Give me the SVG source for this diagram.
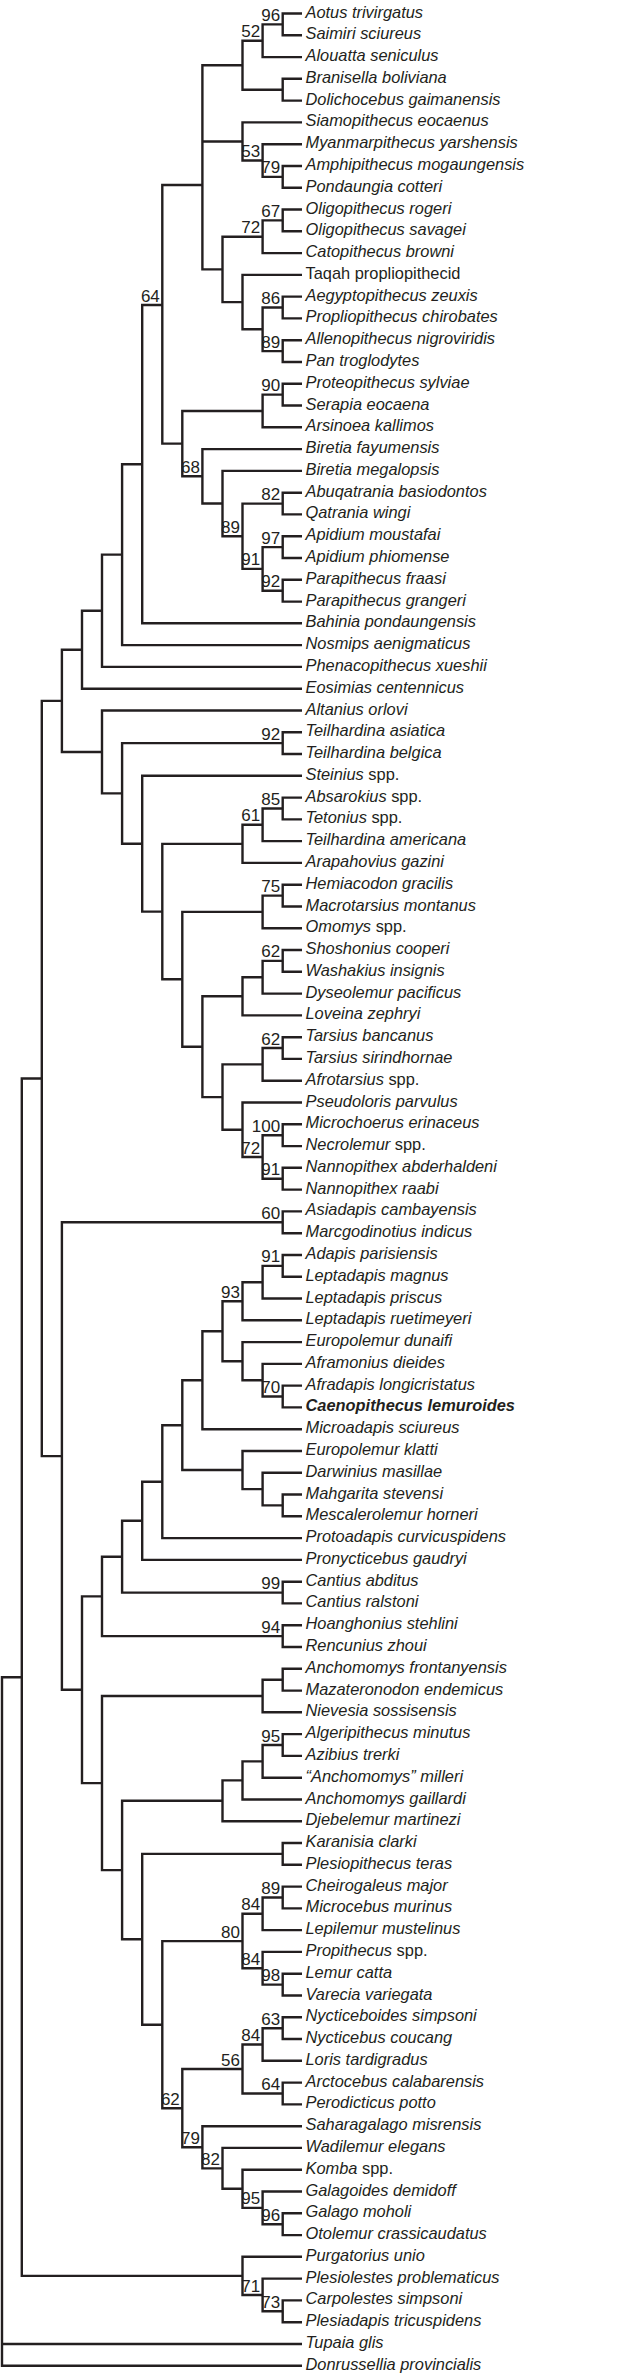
<svg xmlns="http://www.w3.org/2000/svg" width="630" height="2377" viewBox="0 0 630 2377">
<style>
.e{fill:none;stroke:#231f20;stroke-width:2.4;stroke-linecap:butt;stroke-linejoin:miter}
.t{font-family:"Liberation Sans",Arial,sans-serif;font-size:16.4px;fill:#231f20;font-style:italic}
.r{font-style:normal}
.b{font-weight:bold}
.s{font-family:"Liberation Sans",Arial,sans-serif;font-size:17px;fill:#231f20;text-anchor:end}
</style>
<rect width="630" height="2377" fill="#fff"/>
<g id="connectors" class="e">
<path d="M302 13.5H282.7V35.3H302"/>
<path d="M282.7 24.4H262.6V57.1H302"/>
<path d="M302 78.8H282.7V100.6H302"/>
<path d="M262.6 40.7H242.5V89.7H282.7"/>
<path d="M302 166H282.7V187.7H302"/>
<path d="M302 144.2H262.6V176.9H282.7"/>
<path d="M302 122.4H242.5V160.5H262.6"/>
<path d="M302 209.5H282.7V231.3H302"/>
<path d="M282.7 220.4H262.6V253.1H302"/>
<path d="M302 296.6H282.7V318.4H302"/>
<path d="M302 340.2H282.7V362H302"/>
<path d="M282.7 307.5H262.6V351.1H282.7"/>
<path d="M302 274.9H242.5V329.3H262.6"/>
<path d="M262.6 236.7H222.5V302.1H242.5"/>
<path d="M242.5 65.2H202.4V269.4H222.5M202.4 141.5H242.5"/>
<path d="M302 383.8H282.7V405.5H302"/>
<path d="M282.7 394.6H262.6V427.3H302"/>
<path d="M302 492.7H282.7V514.4H302"/>
<path d="M302 536.2H282.7V558H302"/>
<path d="M302 579.8H282.7V601.6H302"/>
<path d="M282.7 547.1H262.6V590.7H282.7"/>
<path d="M282.7 503.6H242.5V568.9H262.6"/>
<path d="M302 470.9H222.5V536.2H242.5"/>
<path d="M302 449.1H202.4V503.5H222.5"/>
<path d="M262.6 411H182.3V476.3H202.4"/>
<path d="M202.4 185H162.3V443.6H182.3"/>
<path d="M162.3 305H142.2V623.3H302"/>
<path d="M142.2 464.2H122.1V645.1H302"/>
<path d="M122.1 554.6H102V666.9H302"/>
<path d="M102 610.8H82V688.7H302"/>
<path d="M302 732.2H282.7V754H302"/>
<path d="M302 797.6H282.7V819.4H302"/>
<path d="M282.7 808.5H262.6V841.1H302"/>
<path d="M262.6 824.8H242.5V862.9H302"/>
<path d="M302 884.7H282.7V906.5H302"/>
<path d="M282.7 895.6H262.6V928.3H302"/>
<path d="M302 950H282.7V971.8H302"/>
<path d="M282.7 960.9H262.6V993.6H302"/>
<path d="M262.6 977.3H242.5V1015.4H302"/>
<path d="M302 1037.2H282.7V1058.9H302"/>
<path d="M282.7 1048H262.6V1080.7H302"/>
<path d="M302 1124.3H282.7V1146.1H302"/>
<path d="M302 1167.8H282.7V1189.6H302"/>
<path d="M282.7 1135.2H262.6V1178.7H282.7"/>
<path d="M302 1102.5H242.5V1157H262.6"/>
<path d="M262.6 1064.4H222.5V1129.8H242.5"/>
<path d="M242.5 996.3H202.4V1097.1H222.5"/>
<path d="M262.6 911.9H182.3V1046.7H202.4"/>
<path d="M242.5 843.9H162.3V979.3H182.3"/>
<path d="M302 775.8H142.2V911.6H162.3"/>
<path d="M282.7 743.1H122.1V843.7H142.2"/>
<path d="M302 710.5H102V793.4H122.1"/>
<path d="M82 649.7H61.9V752H102"/>
<path d="M302 1211.4H282.7V1233.2H302"/>
<path d="M302 1255H282.7V1276.7H302"/>
<path d="M282.7 1265.9H262.6V1298.5H302"/>
<path d="M262.6 1282.2H242.5V1320.3H302"/>
<path d="M302 1385.6H282.7V1407.4H302"/>
<path d="M302 1363.9H262.6V1396.5H282.7"/>
<path d="M302 1342.1H242.5V1380.2H262.6"/>
<path d="M242.5 1301.3H222.5V1361.2H242.5"/>
<path d="M222.5 1331.3H202.4V1429.2H302"/>
<path d="M302 1494.5H282.7V1516.3H302"/>
<path d="M302 1472.8H262.6V1505.4H282.7"/>
<path d="M302 1451H242.5V1489.1H262.6"/>
<path d="M202.4 1380.3H182.3V1470H242.5"/>
<path d="M182.3 1425.2H162.3V1538.1H302"/>
<path d="M162.3 1481.7H142.2V1559.9H302"/>
<path d="M302 1581.7H282.7V1603.4H302"/>
<path d="M142.2 1520.8H122.1V1592.6H282.7"/>
<path d="M302 1625.2H282.7V1647H302"/>
<path d="M122.1 1556.7H102V1636.1H282.7"/>
<path d="M302 1668.8H282.7V1690.6H302"/>
<path d="M282.7 1679.7H262.6V1712.3H302"/>
<path d="M302 1734.1H282.7V1755.9H302"/>
<path d="M282.7 1745H262.6V1777.7H302"/>
<path d="M262.6 1761.4H242.5V1799.5H302"/>
<path d="M242.5 1780.4H222.5V1821.2H302"/>
<path d="M302 1843H282.7V1864.8H302"/>
<path d="M302 1886.6H282.7V1908.4H302"/>
<path d="M282.7 1897.5H262.6V1930.1H302"/>
<path d="M302 1973.7H282.7V1995.5H302"/>
<path d="M302 1951.9H262.6V1984.6H282.7"/>
<path d="M262.6 1913.8H242.5V1968.3H262.6"/>
<path d="M302 2017.3H282.7V2039H302"/>
<path d="M282.7 2028.2H262.6V2060.8H302"/>
<path d="M302 2082.6H282.7V2104.4H302"/>
<path d="M262.6 2044.5H242.5V2093.5H282.7"/>
<path d="M302 2213.3H282.7V2235.1H302"/>
<path d="M302 2191.5H262.6V2224.2H282.7"/>
<path d="M302 2169.7H242.5V2207.9H262.6"/>
<path d="M302 2147.9H222.5V2188.8H242.5"/>
<path d="M302 2126.2H202.4V2168.4H222.5"/>
<path d="M242.5 2069H182.3V2147.3H202.4"/>
<path d="M242.5 1941.1H162.3V2108.2H182.3"/>
<path d="M282.7 1853.9H142.2V2024.7H162.3"/>
<path d="M222.5 1800.8H122.1V1939.3H142.2"/>
<path d="M262.6 1696H102V1870.1H122.1"/>
<path d="M102 1596.4H82V1783.1H102"/>
<path d="M282.7 1222.3H61.9V1689.8H82"/>
<path d="M61.9 700.9H41.8V1456.1H61.9"/>
<path d="M302 2300.4H282.7V2322.2H302"/>
<path d="M302 2278.6H262.6V2311.3H282.7"/>
<path d="M302 2256.8H242.5V2295H262.6"/>
<path d="M41.8 1078.5H21.8V2275.9H242.5"/>
<path d="M21.8 1677.2H2V2365.7H302M2 2344H302"/>
</g>
<g id="support">
<text class="s" x="280.2" y="20.9">96</text>
<text class="s" x="260.1" y="37.2">52</text>
<text class="s" x="260.1" y="157">53</text>
<text class="s" x="280.2" y="173.4">79</text>
<text class="s" x="280.2" y="216.9">67</text>
<text class="s" x="260.1" y="233.2">72</text>
<text class="s" x="280.2" y="304">86</text>
<text class="s" x="280.2" y="347.6">89</text>
<text class="s" x="159.8" y="301.5">64</text>
<text class="s" x="280.2" y="391.1">90</text>
<text class="s" x="199.9" y="472.8">68</text>
<text class="s" x="280.2" y="500.1">82</text>
<text class="s" x="240" y="532.7">89</text>
<text class="s" x="280.2" y="543.6">97</text>
<text class="s" x="260.1" y="565.4">91</text>
<text class="s" x="280.2" y="587.2">92</text>
<text class="s" x="280.2" y="739.6">92</text>
<text class="s" x="280.2" y="805">85</text>
<text class="s" x="260.1" y="821.3">61</text>
<text class="s" x="280.2" y="892.1">75</text>
<text class="s" x="280.2" y="957.4">62</text>
<text class="s" x="280.2" y="1044.5">62</text>
<text class="s" x="280.2" y="1131.7">100</text>
<text class="s" x="280.2" y="1175.2">91</text>
<text class="s" x="260.1" y="1153.5">72</text>
<text class="s" x="280.2" y="1218.8">60</text>
<text class="s" x="280.2" y="1262.4">91</text>
<text class="s" x="240" y="1297.8">93</text>
<text class="s" x="280.2" y="1393">70</text>
<text class="s" x="280.2" y="1589.1">99</text>
<text class="s" x="280.2" y="1632.6">94</text>
<text class="s" x="280.2" y="1741.5">95</text>
<text class="s" x="280.2" y="1894">89</text>
<text class="s" x="260.1" y="1910.3">84</text>
<text class="s" x="240" y="1937.6">80</text>
<text class="s" x="260.1" y="1964.8">84</text>
<text class="s" x="280.2" y="1981.1">98</text>
<text class="s" x="280.2" y="2024.7">63</text>
<text class="s" x="260.1" y="2041">84</text>
<text class="s" x="280.2" y="2090">64</text>
<text class="s" x="240" y="2065.5">56</text>
<text class="s" x="179.8" y="2104.7">62</text>
<text class="s" x="199.9" y="2143.8">79</text>
<text class="s" x="220" y="2164.9">82</text>
<text class="s" x="260.1" y="2204.4">95</text>
<text class="s" x="280.2" y="2220.7">96</text>
<text class="s" x="260.1" y="2291.5">71</text>
<text class="s" x="280.2" y="2307.8">73</text>
</g>
<g id="taxa">
<g id="t001"><text class="t" x="305.5" y="17.5">Aotus trivirgatus</text></g>
<g id="t002"><text class="t" x="305.5" y="39.3">Saimiri sciureus</text></g>
<g id="t003"><text class="t" x="305.5" y="61.1">Alouatta seniculus</text></g>
<g id="t004"><text class="t" x="305.5" y="82.8">Branisella boliviana</text></g>
<g id="t005"><text class="t" x="305.5" y="104.6">Dolichocebus gaimanensis</text></g>
<g id="t006"><text class="t" x="305.5" y="126.4">Siamopithecus eocaenus</text></g>
<g id="t007"><text class="t" x="305.5" y="148.2">Myanmarpithecus yarshensis</text></g>
<g id="t008"><text class="t" x="305.5" y="170">Amphipithecus mogaungensis</text></g>
<g id="t009"><text class="t" x="305.5" y="191.7">Pondaungia cotteri</text></g>
<g id="t010"><text class="t" x="305.5" y="213.5">Oligopithecus rogeri</text></g>
<g id="t011"><text class="t" x="305.5" y="235.3">Oligopithecus savagei</text></g>
<g id="t012"><text class="t" x="305.5" y="257.1">Catopithecus browni</text></g>
<g id="t013"><text class="t r" x="305.5" y="278.9">Taqah propliopithecid</text></g>
<g id="t014"><text class="t" x="305.5" y="300.6">Aegyptopithecus zeuxis</text></g>
<g id="t015"><text class="t" x="305.5" y="322.4">Propliopithecus chirobates</text></g>
<g id="t016"><text class="t" x="305.5" y="344.2">Allenopithecus nigroviridis</text></g>
<g id="t017"><text class="t" x="305.5" y="366">Pan troglodytes</text></g>
<g id="t018"><text class="t" x="305.5" y="387.8">Proteopithecus sylviae</text></g>
<g id="t019"><text class="t" x="305.5" y="409.5">Serapia eocaena</text></g>
<g id="t020"><text class="t" x="305.5" y="431.3">Arsinoea kallimos</text></g>
<g id="t021"><text class="t" x="305.5" y="453.1">Biretia fayumensis</text></g>
<g id="t022"><text class="t" x="305.5" y="474.9">Biretia megalopsis</text></g>
<g id="t023"><text class="t" x="305.5" y="496.7">Abuqatrania basiodontos</text></g>
<g id="t024"><text class="t" x="305.5" y="518.4">Qatrania wingi</text></g>
<g id="t025"><text class="t" x="305.5" y="540.2">Apidium moustafai</text></g>
<g id="t026"><text class="t" x="305.5" y="562">Apidium phiomense</text></g>
<g id="t027"><text class="t" x="305.5" y="583.8">Parapithecus fraasi</text></g>
<g id="t028"><text class="t" x="305.5" y="605.6">Parapithecus grangeri</text></g>
<g id="t029"><text class="t" x="305.5" y="627.3">Bahinia pondaungensis</text></g>
<g id="t030"><text class="t" x="305.5" y="649.1">Nosmips aenigmaticus</text></g>
<g id="t031"><text class="t" x="305.5" y="670.9">Phenacopithecus xueshii</text></g>
<g id="t032"><text class="t" x="305.5" y="692.7">Eosimias centennicus</text></g>
<g id="t033"><text class="t" x="305.5" y="714.5">Altanius orlovi</text></g>
<g id="t034"><text class="t" x="305.5" y="736.2">Teilhardina asiatica</text></g>
<g id="t035"><text class="t" x="305.5" y="758">Teilhardina belgica</text></g>
<g id="t036"><text class="t" x="305.5" y="779.8">Steinius<tspan class="r"> spp.</tspan></text></g>
<g id="t037"><text class="t" x="305.5" y="801.6">Absarokius<tspan class="r"> spp.</tspan></text></g>
<g id="t038"><text class="t" x="305.5" y="823.4">Tetonius<tspan class="r"> spp.</tspan></text></g>
<g id="t039"><text class="t" x="305.5" y="845.1">Teilhardina americana</text></g>
<g id="t040"><text class="t" x="305.5" y="866.9">Arapahovius gazini</text></g>
<g id="t041"><text class="t" x="305.5" y="888.7">Hemiacodon gracilis</text></g>
<g id="t042"><text class="t" x="305.5" y="910.5">Macrotarsius montanus</text></g>
<g id="t043"><text class="t" x="305.5" y="932.3">Omomys<tspan class="r"> spp.</tspan></text></g>
<g id="t044"><text class="t" x="305.5" y="954">Shoshonius cooperi</text></g>
<g id="t045"><text class="t" x="305.5" y="975.8">Washakius insignis</text></g>
<g id="t046"><text class="t" x="305.5" y="997.6">Dyseolemur pacificus</text></g>
<g id="t047"><text class="t" x="305.5" y="1019.4">Loveina zephryi</text></g>
<g id="t048"><text class="t" x="305.5" y="1041.2">Tarsius bancanus</text></g>
<g id="t049"><text class="t" x="305.5" y="1062.9">Tarsius sirindhornae</text></g>
<g id="t050"><text class="t" x="305.5" y="1084.7">Afrotarsius<tspan class="r"> spp.</tspan></text></g>
<g id="t051"><text class="t" x="305.5" y="1106.5">Pseudoloris parvulus</text></g>
<g id="t052"><text class="t" x="305.5" y="1128.3">Microchoerus erinaceus</text></g>
<g id="t053"><text class="t" x="305.5" y="1150.1">Necrolemur<tspan class="r"> spp.</tspan></text></g>
<g id="t054"><text class="t" x="305.5" y="1171.8">Nannopithex abderhaldeni</text></g>
<g id="t055"><text class="t" x="305.5" y="1193.6">Nannopithex raabi</text></g>
<g id="t056"><text class="t" x="305.5" y="1215.4">Asiadapis cambayensis</text></g>
<g id="t057"><text class="t" x="305.5" y="1237.2">Marcgodinotius indicus</text></g>
<g id="t058"><text class="t" x="305.5" y="1259">Adapis parisiensis</text></g>
<g id="t059"><text class="t" x="305.5" y="1280.7">Leptadapis magnus</text></g>
<g id="t060"><text class="t" x="305.5" y="1302.5">Leptadapis priscus</text></g>
<g id="t061"><text class="t" x="305.5" y="1324.3">Leptadapis ruetimeyeri</text></g>
<g id="t062"><text class="t" x="305.5" y="1346.1">Europolemur dunaifi</text></g>
<g id="t063"><text class="t" x="305.5" y="1367.9">Aframonius dieides</text></g>
<g id="t064"><text class="t" x="305.5" y="1389.6">Afradapis longicristatus</text></g>
<g id="t065"><text class="t b" x="305.5" y="1411.4">Caenopithecus lemuroides</text></g>
<g id="t066"><text class="t" x="305.5" y="1433.2">Microadapis sciureus</text></g>
<g id="t067"><text class="t" x="305.5" y="1455">Europolemur klatti</text></g>
<g id="t068"><text class="t" x="305.5" y="1476.8">Darwinius masillae</text></g>
<g id="t069"><text class="t" x="305.5" y="1498.5">Mahgarita stevensi</text></g>
<g id="t070"><text class="t" x="305.5" y="1520.3">Mescalerolemur horneri</text></g>
<g id="t071"><text class="t" x="305.5" y="1542.1">Protoadapis curvicuspidens</text></g>
<g id="t072"><text class="t" x="305.5" y="1563.9">Pronycticebus gaudryi</text></g>
<g id="t073"><text class="t" x="305.5" y="1585.7">Cantius abditus</text></g>
<g id="t074"><text class="t" x="305.5" y="1607.4">Cantius ralstoni</text></g>
<g id="t075"><text class="t" x="305.5" y="1629.2">Hoanghonius stehlini</text></g>
<g id="t076"><text class="t" x="305.5" y="1651">Rencunius zhoui</text></g>
<g id="t077"><text class="t" x="305.5" y="1672.8">Anchomomys frontanyensis</text></g>
<g id="t078"><text class="t" x="305.5" y="1694.6">Mazateronodon endemicus</text></g>
<g id="t079"><text class="t" x="305.5" y="1716.3">Nievesia sossisensis</text></g>
<g id="t080"><text class="t" x="305.5" y="1738.1">Algeripithecus minutus</text></g>
<g id="t081"><text class="t" x="305.5" y="1759.9">Azibius trerki</text></g>
<g id="t082"><text class="t" x="305.5" y="1781.7">“Anchomomys” milleri</text></g>
<g id="t083"><text class="t" x="305.5" y="1803.5">Anchomomys gaillardi</text></g>
<g id="t084"><text class="t" x="305.5" y="1825.2">Djebelemur martinezi</text></g>
<g id="t085"><text class="t" x="305.5" y="1847">Karanisia clarki</text></g>
<g id="t086"><text class="t" x="305.5" y="1868.8">Plesiopithecus teras</text></g>
<g id="t087"><text class="t" x="305.5" y="1890.6">Cheirogaleus major</text></g>
<g id="t088"><text class="t" x="305.5" y="1912.4">Microcebus murinus</text></g>
<g id="t089"><text class="t" x="305.5" y="1934.1">Lepilemur mustelinus</text></g>
<g id="t090"><text class="t" x="305.5" y="1955.9">Propithecus<tspan class="r"> spp.</tspan></text></g>
<g id="t091"><text class="t" x="305.5" y="1977.7">Lemur catta</text></g>
<g id="t092"><text class="t" x="305.5" y="1999.5">Varecia variegata</text></g>
<g id="t093"><text class="t" x="305.5" y="2021.3">Nycticeboides simpsoni</text></g>
<g id="t094"><text class="t" x="305.5" y="2043">Nycticebus coucang</text></g>
<g id="t095"><text class="t" x="305.5" y="2064.8">Loris tardigradus</text></g>
<g id="t096"><text class="t" x="305.5" y="2086.6">Arctocebus calabarensis</text></g>
<g id="t097"><text class="t" x="305.5" y="2108.4">Perodicticus potto</text></g>
<g id="t098"><text class="t" x="305.5" y="2130.2">Saharagalago misrensis</text></g>
<g id="t099"><text class="t" x="305.5" y="2151.9">Wadilemur elegans</text></g>
<g id="t100"><text class="t" x="305.5" y="2173.7">Komba<tspan class="r"> spp.</tspan></text></g>
<g id="t101"><text class="t" x="305.5" y="2195.5">Galagoides demidoff</text></g>
<g id="t102"><text class="t" x="305.5" y="2217.3">Galago moholi</text></g>
<g id="t103"><text class="t" x="305.5" y="2239.1">Otolemur crassicaudatus</text></g>
<g id="t104"><text class="t" x="305.5" y="2260.8">Purgatorius unio</text></g>
<g id="t105"><text class="t" x="305.5" y="2282.6">Plesiolestes problematicus</text></g>
<g id="t106"><text class="t" x="305.5" y="2304.4">Carpolestes simpsoni</text></g>
<g id="t107"><text class="t" x="305.5" y="2326.2">Plesiadapis tricuspidens</text></g>
<g id="t108"><text class="t" x="305.5" y="2348">Tupaia glis</text></g>
<g id="t109"><text class="t" x="305.5" y="2369.7">Donrussellia provincialis</text></g>
</g>
</svg>
